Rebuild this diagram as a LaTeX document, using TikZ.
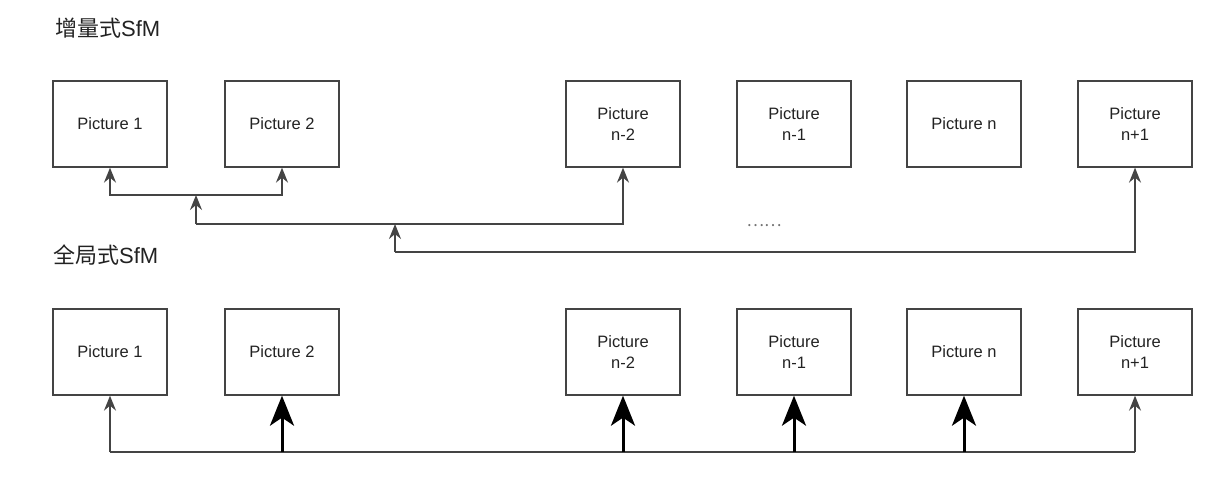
\documentclass[tikz,border=0pt]{standalone}
\usepackage{fontspec}
\setmainfont{Liberation Sans}
\newfontfamily\cjk{Noto Sans CJK SC}
\usetikzlibrary{arrows.meta,calc}
\definecolor{txt}{HTML}{222222}
\definecolor{edge}{HTML}{444444}
\tikzset{
  pic/.style={draw=edge, line width=1.3pt, minimum width=114pt, minimum height=86pt,
    inner sep=0pt, align=center, text=txt, font=\fontsize{16.5}{21}\selectfont},
  title/.style={anchor=base west, inner sep=0pt, text=txt, font=\fontsize{22}{26}\selectfont},
  conn/.style={draw=edge, line width=1.5pt},
  thinarr/.style={conn, -{Stealth[length=15pt, width=12pt, inset=5pt]}},
  thickarr/.style={draw=black, line width=3pt, -{Stealth[length=30pt, width=24pt, inset=8pt]}},
}
\begin{document}
\begin{tikzpicture}[x=1pt, y=-1pt]
\useasboundingbox (0,0) rectangle (1231,483);
% titles
\node[title] (t1) at (55,36) {{\cjk 增量式}SfM};
\node[title] (t2) at (53,263) {{\cjk 全局式}SfM};
% top row
\node[pic] (p1) at (110,124) {Picture 1};
\node[pic] (p2) at (282,124) {Picture 2};
\node[pic] (p3) at (623,124) {Picture\\n-2};
\node[pic] (p4) at (794,124) {Picture\\n-1};
\node[pic] (p5) at (964,124) {Picture n};
\node[pic] (p6) at (1135,124) {Picture\\n+1};
% bottom row
\node[pic] (q1) at (110,352) {Picture 1};
\node[pic] (q2) at (282,352) {Picture 2};
\node[pic] (q3) at (623,352) {Picture\\n-2};
\node[pic] (q4) at (794,352) {Picture\\n-1};
\node[pic] (q5) at (964,352) {Picture n};
\node[pic] (q6) at (1135,352) {Picture\\n+1};
% dots
\node[text=black!55, inner sep=0pt, font=\cjk\fontsize{16.5}{20}\selectfont] (dots) at (764,226) {……};
% incremental connectors
\coordinate (j1) at (196,195);
\coordinate (j2) at (196,224);
\coordinate (j3) at (395,252);
\draw[thinarr] (j1) -| (p1.south);
\draw[thinarr] (j1) -| (p2.south);
\draw[thinarr] (j2) -- (j1);
\draw[thinarr] (j2) -| (p3.south);
\draw[thinarr] (j3) -- (j3 |- j2);
\draw[thinarr] (j3) -| (p6.south);
% global connectors
\coordinate (bus) at (0,452);
\draw[conn] (q1.south |- bus) -- (q6.south |- bus);
\draw[thinarr] (q1.south |- bus) -- (q1.south);
\draw[thinarr] (q6.south |- bus) -- (q6.south);
\draw[thickarr] (q2.south |- bus) -- (q2.south);
\draw[thickarr] (q3.south |- bus) -- (q3.south);
\draw[thickarr] (q4.south |- bus) -- (q4.south);
\draw[thickarr] (q5.south |- bus) -- (q5.south);
\end{tikzpicture}
\end{document}
